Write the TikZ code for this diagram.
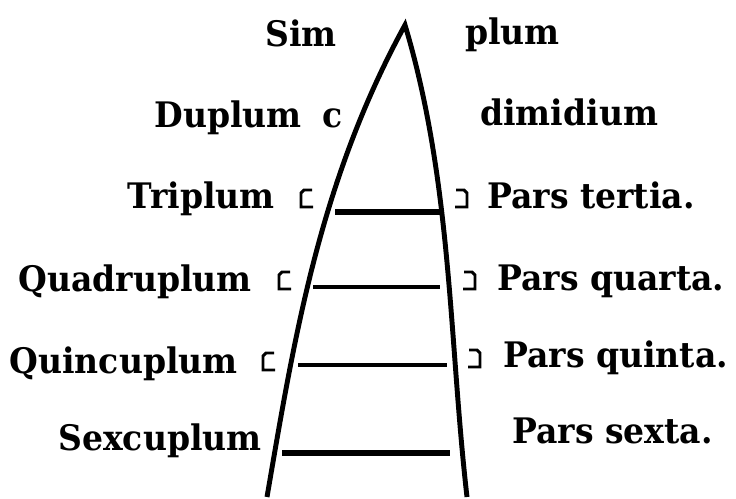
\documentclass[tikz,border=0pt]{standalone}
\usepackage{fontspec}
\setmainfont[FakeStretch=0.94]{DejaVu Serif}
\usepackage{tikz}

\begin{document}
\begin{tikzpicture}[x=0.025cm,y=-0.025cm,
  word/.style={font=\fontsize{25}{30}\selectfont\bfseries, inner sep=0pt},
  side/.style={line width=3.5pt, line join=miter},
  rung/.style={line width=2.9pt},
  brk/.style={line width=2.1pt}]
\useasboundingbox (0,0) rectangle (736,499);

% the two sides, meeting at the top
\draw[side] (267,497) .. controls (294,340) and (319,182) .. (405,25)
  .. controls (452,182) and (449,340) .. (467,497);

% cross lines
\draw[rung, line width=3.6pt] (335,212) -- (442,212);
\draw[rung] (313,287) -- (440,287);
\draw[rung] (298,365) -- (447,365);
\draw[rung, line width=3.6pt] (282,453) -- (450,453);

% small marks beside the lines
\foreach \x/\y in {301/207,279/289,263/370}
  \draw[brk] (\x+11,\y-17) -- (\x+3,\y-17) -- (\x,\y-14) -- (\x,\y) -- (\x+12,\y);
\foreach \x/\y in {467/207,475/289,480/367}
  \draw[brk] (\x-11,\y-17) -- (\x-3,\y-17) -- (\x,\y-14) -- (\x,\y) -- (\x-12,\y);

% left column
\node[word, anchor=base east] (sim) at (337,47) {Sim};
\node[word, anchor=base east] (duplum) at (302,127) {Duplum};
\node[word, anchor=base east] (cmark) at (343,127) {c};
\node[word, anchor=base east] (triplum) at (275,208) {Triplum};
\node[word, anchor=base east] (quadruplum) at (252,291) {Quadruplum};
\node[word, anchor=base east] (quincuplum) at (238,373) {Quincuplum};
\node[word, anchor=base east] (sexcuplum) at (262,450) {Sexcuplum};

% right column
\node[word, anchor=base west] (plum) at (465,45) {plum};
\node[word, anchor=base west] (dimidium) at (480,125) {dimidium};
\node[word, anchor=base west] (tertia) at (487,208) {Pars tertia.};
\node[word, anchor=base west] (quarta) at (497,290) {Pars quarta.};
\node[word, anchor=base west] (quinta) at (503,367) {Pars quinta.};
\node[word, anchor=base west] (sexta) at (512,443) {Pars sexta.};
\end{tikzpicture}
\end{document}
